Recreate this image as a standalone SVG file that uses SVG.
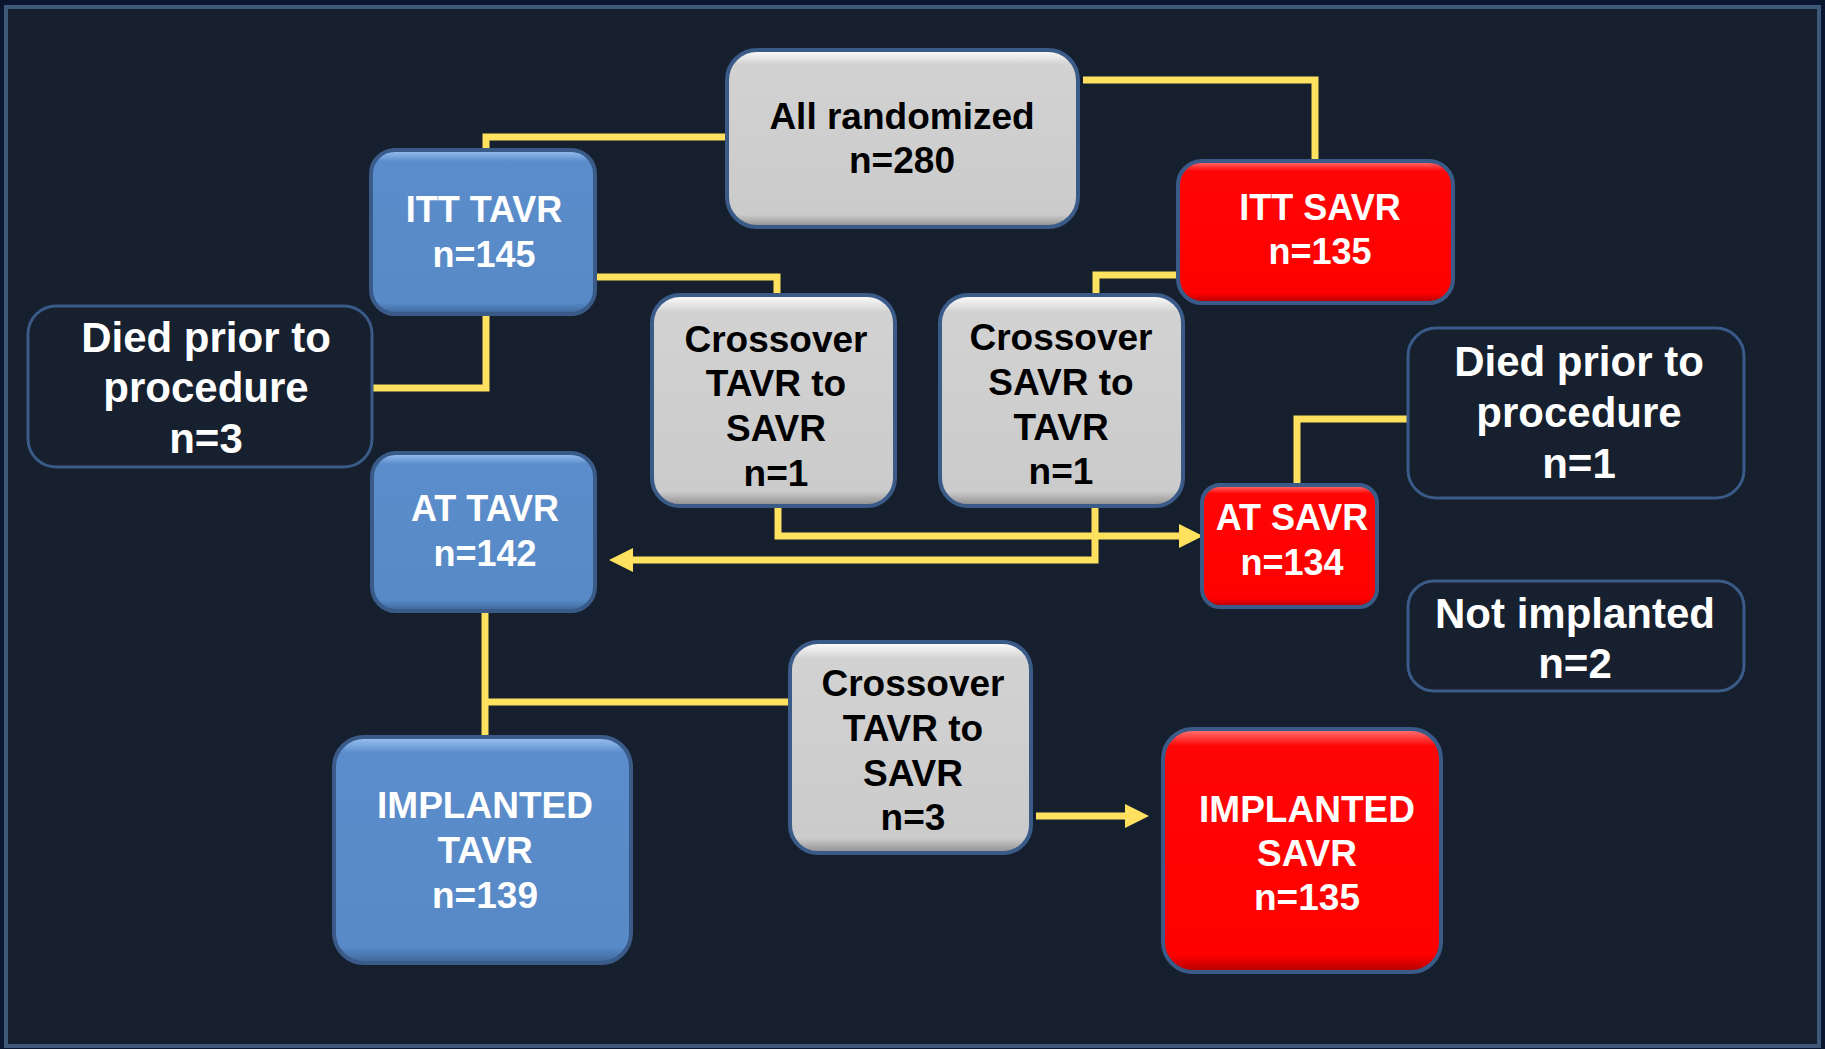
<svg xmlns="http://www.w3.org/2000/svg" width="1825" height="1049" viewBox="0 0 1825 1049">
<defs>
<linearGradient id="gBlue" x1="0" y1="0" x2="0" y2="1">
<stop offset="0" stop-color="#9cc4f5"/><stop offset="0.07" stop-color="#5b8ccb"/><stop offset="0.93" stop-color="#578ac7"/><stop offset="1" stop-color="#3d6598"/>
</linearGradient>
<linearGradient id="gGray" x1="0" y1="0" x2="0" y2="1">
<stop offset="0" stop-color="#ffffff"/><stop offset="0.08" stop-color="#d2d2d2"/><stop offset="0.93" stop-color="#cbcbcb"/><stop offset="1" stop-color="#8e8e8e"/>
</linearGradient>
<linearGradient id="gRed" x1="0" y1="0" x2="0" y2="1">
<stop offset="0" stop-color="#ff7a7a"/><stop offset="0.07" stop-color="#ff0606"/><stop offset="0.93" stop-color="#fe0000"/><stop offset="1" stop-color="#b00000"/>
</linearGradient>
<marker id="arr" markerUnits="userSpaceOnUse" markerWidth="26" markerHeight="26" refX="0" refY="12" orient="auto">
<path d="M0,0 L24,12 L0,24 Z" fill="#fde15f"/>
</marker>
<style>
.blue{fill:url(#gBlue);stroke:#3a5a88;stroke-width:4}
.gray{fill:url(#gGray);stroke:#3a5a88;stroke-width:4}
.red{fill:url(#gRed);stroke:#3a5a88;stroke-width:4}
.dark{fill:#16202e;stroke:#3a5a88;stroke-width:3}
text{font-family:"Liberation Sans",Arial,sans-serif;font-weight:bold;text-anchor:middle}
.w{fill:#ffffff}
.k{fill:#000000}
.conn path{fill:none;stroke:#fde15f;stroke-width:7;stroke-linejoin:miter}
</style>
</defs>
<rect x="0" y="0" width="1825" height="1049" fill="#0a1530"/>
<rect x="6" y="7" width="1813" height="1039" fill="#151f2d" stroke="#3d5878" stroke-width="4"/>

<g class="conn" id="connectors">
<path d="M725 137 H486 V150"/>
<path d="M1083 80 H1315 V160"/>
<path d="M597 277 H777 V294"/>
<path d="M1177 275 H1096 V294"/>
<path d="M486 316 V388 H373"/>
<path d="M778 507 V536 H1179" marker-end="url(#arr)"/>
<path d="M1095 507 V560 H633" marker-end="url(#arr)"/>
<path d="M1297 484 V419 H1407"/>
<path d="M485 612 V736"/>
<path d="M485 702 H789"/>
<path d="M1036 816 H1125" marker-end="url(#arr)"/>
</g>

<g id="all">
<rect class="gray" x="727" y="50" width="351" height="177" rx="30"/>
<text class="k" font-size="37" x="902" y="129">All randomized</text>
<text class="k" font-size="37" x="902" y="173">n=280</text>
</g>
<g id="itt_tavr">
<rect class="blue" x="371" y="150" width="224" height="164" rx="24"/>
<text class="w" font-size="36" x="484" y="222">ITT TAVR</text>
<text class="w" font-size="36" x="484" y="267">n=145</text>
</g>
<g id="itt_savr">
<rect class="red" x="1178" y="161" width="275" height="142" rx="24"/>
<text class="w" font-size="36" x="1320" y="220">ITT SAVR</text>
<text class="w" font-size="36" x="1320" y="264">n=135</text>
</g>
<g id="died_left">
<rect class="dark" x="28" y="306" width="344" height="161" rx="28"/>
<text class="w" font-size="42" x="206" y="352">Died prior to</text>
<text class="w" font-size="42" x="206" y="402">procedure</text>
<text class="w" font-size="42" x="206" y="453">n=3</text>
</g>
<g id="cross_tavr_savr_1">
<rect class="gray" x="652" y="295" width="243" height="211" rx="28"/>
<text class="k" font-size="37" x="776" y="352">Crossover</text>
<text class="k" font-size="37" x="776" y="396">TAVR to</text>
<text class="k" font-size="37" x="776" y="441">SAVR</text>
<text class="k" font-size="37" x="776" y="486">n=1</text>
</g>
<g id="cross_savr_tavr">
<rect class="gray" x="940" y="295" width="243" height="211" rx="28"/>
<text class="k" font-size="37" x="1061" y="350">Crossover</text>
<text class="k" font-size="37" x="1061" y="395">SAVR to</text>
<text class="k" font-size="37" x="1061" y="440">TAVR</text>
<text class="k" font-size="37" x="1061" y="484">n=1</text>
</g>
<g id="died_right">
<rect class="dark" x="1408" y="328" width="336" height="170" rx="28"/>
<text class="w" font-size="42" x="1579" y="376">Died prior to</text>
<text class="w" font-size="42" x="1579" y="427">procedure</text>
<text class="w" font-size="42" x="1579" y="478">n=1</text>
</g>
<g id="at_tavr">
<rect class="blue" x="372" y="453" width="223" height="158" rx="24"/>
<text class="w" font-size="36" x="485" y="521">AT TAVR</text>
<text class="w" font-size="36" x="485" y="566">n=142</text>
</g>
<g id="at_savr">
<rect class="red" x="1202" y="485" width="175" height="122" rx="18"/>
<text class="w" font-size="36" x="1292" y="530">AT SAVR</text>
<text class="w" font-size="36" x="1292" y="575">n=134</text>
</g>
<g id="not_implanted">
<rect class="dark" x="1408" y="581" width="336" height="110" rx="26"/>
<text class="w" font-size="42" x="1575" y="628">Not implanted</text>
<text class="w" font-size="42" x="1575" y="678">n=2</text>
</g>
<g id="cross_tavr_savr_3">
<rect class="gray" x="790" y="642" width="241" height="211" rx="28"/>
<text class="k" font-size="37" x="913" y="696">Crossover</text>
<text class="k" font-size="37" x="913" y="741">TAVR to</text>
<text class="k" font-size="37" x="913" y="786">SAVR</text>
<text class="k" font-size="37" x="913" y="830">n=3</text>
</g>
<g id="implanted_tavr">
<rect class="blue" x="334" y="737" width="297" height="226" rx="30"/>
<text class="w" font-size="37" x="485" y="818">IMPLANTED</text>
<text class="w" font-size="37" x="485" y="863">TAVR</text>
<text class="w" font-size="37" x="485" y="908">n=139</text>
</g>
<g id="implanted_savr">
<rect class="red" x="1163" y="729" width="278" height="243" rx="30"/>
<text class="w" font-size="37" x="1307" y="822">IMPLANTED</text>
<text class="w" font-size="37" x="1307" y="866">SAVR</text>
<text class="w" font-size="37" x="1307" y="910">n=135</text>
</g>
</svg>
